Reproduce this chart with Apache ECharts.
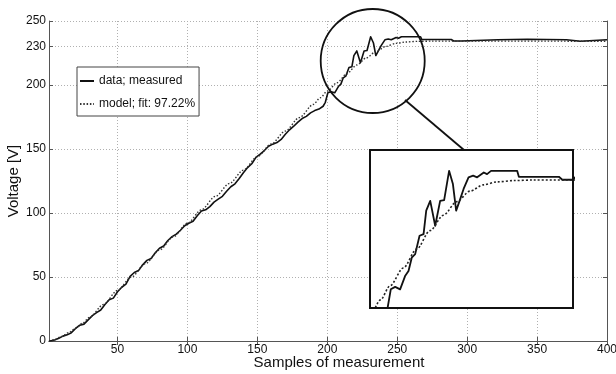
<!DOCTYPE html>
<html><head><meta charset="utf-8">
<script src="https://cdn.jsdelivr.net/npm/echarts@6/dist/echarts.min.js"></script>
<style>html,body{margin:0;padding:0;background:#fff;overflow:hidden}#c{width:616px;height:374px}</style>
</head><body><div id="c"></div>
<script>
// ---- data ----
const measuredSamples = [1,3,5,8,11,14,17,20,23,26,29,32,35,38,41,44,47,50,53,56,59,62,65,68,71,74,77,80,83,86,89,92,95,98,101,104,107,110,113,116,119,122,125,128,131,134,137,140,143,146,149,152,155,158,161,164,167,170,173,176,179,182,185,188,191,194,197,198.6,200.4,202.7,205.3,207.9,209.7,211.4,213.2,215.5,217.6,219,221.1,223.7,226.3,228.4,231,233,234.7,236.5,238.6,241.2,243.6,245.7,249.2,250.9,253,266.7,267.6,288.6,290.4,296,297,322,323,343,344,371,372,381,382,400];
const measuredVoltage = [0,0.3,0.8,2.2,3.8,4.8,6.5,9.8,12.3,13.2,16.5,19.8,22.2,24.2,28.5,32.2,33.5,38.5,42,44.5,50.5,53.5,55,59.5,63,64.5,69,72.5,74.2,78.5,81.5,83.5,86.5,90,92,93.5,97.8,101.5,102.5,105,108.5,110.8,113,117,120.5,122.8,127,131.5,135.5,138.5,143.5,146,148.8,152.2,153.8,155,157.5,161.5,165,167.8,171,173.8,175.5,178.2,180,181.2,183.4,186.5,193.9,194.8,193.9,198.8,200.7,205.6,206.9,213.7,214.3,223,226.6,217.4,226.6,226.9,237.7,232.8,223,226.6,231,235.3,235.9,235.3,237.1,236.5,237.7,237.7,235.5,235.5,234.4,234.4,235.3,235.3,235.8,235.8,235.3,235.3,234.2,234.2,235.4,235.4];
const modelSamples = [1,5,10,15,20,25,30,40,50,60,70,80,90,100,110,120,130,140,150,160,170,180,190,195,200,207,214,221,228,235,242,249,256,265,275,300,400];
const modelVoltage = [0,1,3.5,6.5,10,14,18.5,28.5,39.5,50,60.5,71,81.5,92,102.5,113,123,133.5,144,154,164,174.5,184.8,190,195.2,201.8,208.8,215.6,221.3,226.3,230.2,232.5,233.6,234.1,234.3,234.3,234.2];
const xTickValues = [50,100,150,200,250,300,350,400];
const yTickValues = [0,50,100,150,200,230,250];
const seriesNames = ['data; measured','model; fit: 97.22%'];
const xAxisTitle = 'Samples of measurement';
const yAxisTitle = 'Voltage [V]';
const xRange = [1,400];
const yRange = [0,250];
const zoomXRange = [189.5,296];
const zoomYRange = [187,245.4];

// ---- chart ----
const FONT = '"Liberation Sans", Arial, sans-serif';
const measuredData = measuredSamples.map((s,i)=>[s, measuredVoltage[i]]);
const modelData = modelSamples.map((s,i)=>[s, modelVoltage[i]]);
const frame = {show:true, lineStyle:{color:'#555', width:1}};
const grid = {show:true, lineStyle:{color:'#b0b0b0', type:[1,2], width:1}};

const chart = echarts.init(document.getElementById('c'), null, {renderer:'canvas'});
chart.setOption({
  animation:false,
  backgroundColor:'#fff',
  textStyle:{fontFamily:FONT},
  grid:[
    {left:49, right:9, top:21, bottom:33, outerBoundsMode:'none'},
    {left:370, top:150, width:203, height:158, outerBoundsMode:'none'}
  ],
  legend:{
    data:seriesNames, orient:'vertical', left:77, top:67,
    itemWidth:14, itemHeight:14, itemGap:11, padding:[8,4,6,2],
    borderColor:'#444', borderWidth:1, backgroundColor:'#fff',
    itemStyle:{opacity:0},
    textStyle:{fontSize:12, color:'#111', fontFamily:FONT}
  },
  xAxis:[
    {type:'value', gridIndex:0, min:xRange[0], max:xRange[1], position:'bottom',
     name:xAxisTitle, nameLocation:'middle', nameGap:14, nameMoveOverlap:false,
     nameTextStyle:{fontSize:15, color:'#111', fontFamily:FONT, padding:[0,0,0,22]},
     axisLine:frame,
     axisTick:{show:true, inside:true, length:4, lineStyle:{color:'#555'}, customValues:xTickValues},
     axisLabel:{customValues:xTickValues, fontSize:12, color:'#111', margin:3, fontFamily:FONT},
     splitLine:grid},
    {type:'value', gridIndex:0, min:xRange[0], max:xRange[1], position:'top',
     axisLine:frame,
     axisTick:{show:true, inside:true, length:4, lineStyle:{color:'#555'}, customValues:xTickValues},
     axisLabel:{show:false}, splitLine:{show:false}},
    {type:'value', gridIndex:1, min:zoomXRange[0], max:zoomXRange[1], show:false}
  ],
  yAxis:[
    {type:'value', gridIndex:0, min:yRange[0], max:yRange[1], position:'left',
     name:yAxisTitle, nameLocation:'middle', nameGap:28, nameMoveOverlap:false,
     nameTextStyle:{fontSize:15, color:'#111', fontFamily:FONT},
     axisLine:frame,
     axisTick:{show:true, inside:true, length:4, lineStyle:{color:'#555'}, customValues:yTickValues},
     axisLabel:{customValues:yTickValues, fontSize:12, color:'#111', margin:3, fontFamily:FONT},
     splitLine:grid},
    {type:'value', gridIndex:0, min:yRange[0], max:yRange[1], position:'right',
     axisLine:frame,
     axisTick:{show:true, inside:true, length:4, lineStyle:{color:'#555'}, customValues:yTickValues},
     axisLabel:{show:false}, splitLine:{show:false}},
    {type:'value', gridIndex:1, min:zoomYRange[0], max:zoomYRange[1], show:false}
  ],
  series:[
    {name:seriesNames[0], type:'line', xAxisIndex:0, yAxisIndex:0, data:measuredData,
     symbol:'none', z:3, lineStyle:{color:'#111', width:1.6, join:'round'}},
    {name:seriesNames[1], type:'line', xAxisIndex:0, yAxisIndex:0, data:modelData,
     symbol:'none', smooth:0.3, smoothMonotone:'x', z:4, lineStyle:{color:'#333', width:1.4, type:[1.5,1.8]}},
    {name:seriesNames[0], type:'line', xAxisIndex:2, yAxisIndex:2, data:measuredData,
     symbol:'none', z:12, clip:true, lineStyle:{color:'#111', width:1.8, join:'round'}},
    {name:seriesNames[1], type:'line', xAxisIndex:2, yAxisIndex:2, data:modelData,
     symbol:'none', smooth:0.3, smoothMonotone:'x', z:12, clip:true, lineStyle:{color:'#222', width:1.6, type:[2,2]}}
  ],
  graphic:{elements:[
    {type:'rect', shape:{x:370, y:150, width:203, height:158}, style:{fill:'#fff', stroke:null}, z:10},
    {type:'rect', shape:{x:370, y:150, width:203, height:158}, style:{fill:'none', stroke:'#111', lineWidth:2}, z:14},
    {type:'circle', shape:{cx:372.7, cy:61, r:52}, style:{fill:'none', stroke:'#111', lineWidth:1.8}, z:14},
    {type:'line', shape:{x1:405, y1:100, x2:464, y2:150}, style:{stroke:'#111', lineWidth:1.8}, z:14}
  ]}
});
</script></body></html>
